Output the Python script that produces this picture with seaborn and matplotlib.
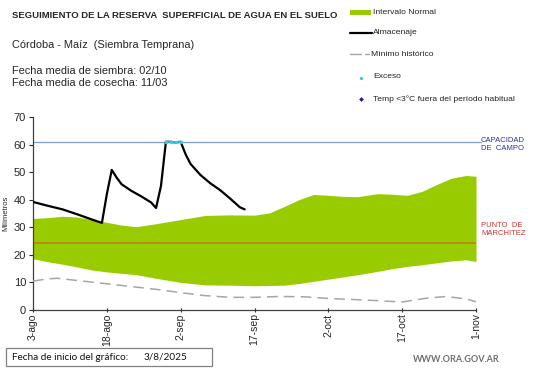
import numpy as np
import pandas as pd
import matplotlib
matplotlib.use("Agg")
import matplotlib.pyplot as plt
import seaborn as sns
from matplotlib.lines import Line2D

sns.set_style("white")
plt.rcParams['font.family'] = ['Liberation Sans', 'DejaVu Sans']

# ---- data (days since 3-ago-2025) ----
band_days = [0, 3, 6, 9, 12, 15, 18, 21, 25, 30, 35, 40, 45, 48, 51, 54, 57, 60, 63, 66, 70, 73, 76, 79, 82, 85, 88, 90]
band_upper = [33.2, 33.5, 34.0, 33.7, 32.8, 31.8, 30.8, 30.2, 31.3, 32.8, 34.3, 34.5, 34.4, 35.2, 37.5, 40.0, 41.9, 41.6, 41.2, 41.1, 42.2, 42.0, 41.6, 43.0, 45.5, 47.8, 48.8, 48.5]
band_lower = [18.6, 17.5, 16.6, 15.6, 14.5, 13.8, 13.3, 12.8, 11.5, 10.0, 9.1, 9.0, 8.8, 8.9, 9.0, 9.6, 10.4, 11.2, 12.0, 12.8, 14.0, 15.0, 15.8, 16.4, 17.1, 17.8, 18.2, 17.6]

alm_days = [0, 3, 6, 9, 12, 14, 15, 16, 17, 18, 20, 22, 24, 25, 26, 27, 28, 29, 30, 31, 32, 34, 36, 38, 40, 42, 43]
alm_vals = [39.2, 37.8, 36.5, 34.7, 32.8, 31.6, 42.0, 50.8, 48.0, 45.6, 43.2, 41.2, 39.0, 37.0, 45.0, 61.0, 61.0, 60.8, 61.0, 56.5, 53.0, 49.0, 46.0, 43.5, 40.5, 37.3, 36.5]

min_days = [0, 3, 5, 10, 15, 20, 25, 30, 35, 40, 45, 50, 55, 60, 65, 70, 75, 80, 84, 88, 90]
min_vals = [10.5, 11.3, 11.5, 10.5, 9.5, 8.5, 7.5, 6.3, 5.2, 4.6, 4.6, 4.9, 4.8, 4.2, 3.8, 3.4, 2.9, 4.3, 4.9, 4.0, 3.0]

exceso_days = [27, 28, 29, 30]
exceso_vals = [61.0, 61.0, 61.0, 61.0]

capacidad = 61.0
marchitez = 24.3

tick_days = [0, 15, 30, 45, 60, 75, 90]
tick_labels = ["3-ago", "18-ago", "2-sep", "17-sep", "2-oct", "17-oct", "1-nov"]

W, H = 541, 368
fig = plt.figure(figsize=(W / 100, H / 100), dpi=100)
ax = fig.add_axes([33 / W, 1 - 310 / H, (476 - 33) / W, (310 - 117) / H])

ax.fill_between(band_days, band_lower, band_upper, color="#99CC00", linewidth=0, zorder=1)
ax.plot([0, 90], [marchitez, marchitez], color="#C07A1A", lw=1.1, zorder=2)
ax.plot([0, 91], [capacidad, capacidad], color="#7F9FCF", lw=0.9, zorder=2, clip_on=False)

df_min = pd.DataFrame({"day": min_days, "val": min_vals})
sns.lineplot(data=df_min, x="day", y="val", ax=ax, color="#A6A6A6", lw=1.1,
             linestyle=(0, (7, 4)), zorder=3)
df_alm = pd.DataFrame({"day": alm_days, "val": alm_vals})
sns.lineplot(data=df_alm, x="day", y="val", ax=ax, color="black", lw=1.6, zorder=4)
df_exc = pd.DataFrame({"day": exceso_days, "val": exceso_vals})
sns.lineplot(data=df_exc, x="day", y="val", ax=ax, color="#33CCEE", lw=1.2, zorder=5,
             marker="o", markersize=2.5, markeredgewidth=0)

ax.set_xlim(0, 90)
ax.set_ylim(0, 70)
ax.set_xticks(tick_days)
ax.set_xticklabels(tick_labels, rotation=90, fontsize=7.5)
ax.set_yticks(range(0, 71, 10))
ax.tick_params(axis="y", labelsize=8, length=3, direction="out", width=0.8, pad=2)
ax.tick_params(axis="x", length=3, direction="inout", width=0.8, pad=1)
ax.tick_params(axis="both", left=True, bottom=True)
for s in ["top", "right"]:
    ax.spines[s].set_visible(False)
for s in ["left", "bottom"]:
    ax.spines[s].set_color("#404040")
    ax.spines[s].set_linewidth(0.9)
ax.set_xlabel("")
ax.set_ylabel("Milímetros", fontsize=5.5, labelpad=3)

# right-side labels
fig.text(481 / W, 1 - 144 / H, "CAPACIDAD\nDE  CAMPO", fontsize=5.5, color="#3030A0",
         va="center", ha="left", linespacing=1.2)
fig.text(481 / W, 1 - 229 / H, "PUNTO  DE\nMARCHITEZ", fontsize=5.5, color="#CC3333",
         va="center", ha="left", linespacing=1.2)

# titles
fig.text(12 / W, 1 - 15 / H, "SEGUIMIENTO DE LA RESERVA  SUPERFICIAL DE AGUA EN EL SUELO",
         fontsize=6.8, fontweight="bold", va="center", ha="left")
fig.text(12 / W, 1 - 45 / H, "Córdoba - Maíz  (Siembra Temprana)", fontsize=7.9,
         va="center", ha="left")
fig.text(12 / W, 1 - 71 / H, "Fecha media de siembra: 02/10", fontsize=7.9, va="center", ha="left")
fig.text(12 / W, 1 - 83 / H, "Fecha media de cosecha: 11/03", fontsize=7.9, va="center", ha="left")

# legend (manual)
lax = fig.add_axes([0, 0, 1, 1], facecolor="none")
lax.set_xlim(0, W)
lax.set_ylim(H, 0)
lax.axis("off")
lax.add_patch(plt.Rectangle((350, 10), 21, 4.5, color="#99CC00", lw=0))
lax.add_line(Line2D([350, 372], [33, 33], color="black", lw=1.6))
lax.add_line(Line2D([350, 361], [54, 54], color="#A6A6A6", lw=1.0))
lax.add_line(Line2D([365, 369], [54, 54], color="#A6A6A6", lw=1.0))
lax.plot([360.5], [78], marker="o", markersize=2.2, color="#33BBDD", mew=0)
lax.plot([360.5], [98.5], marker="D", markersize=2.4, color="#1A1A99", mew=0)
leg_fs = 6.1
lax.text(373, 12, "Intervalo Normal", fontsize=leg_fs, va="center", color="#222222")
lax.text(373, 33, "Almacenaje", fontsize=leg_fs, va="center", color="#222222")
lax.text(371, 54, "Mínimo histórico", fontsize=leg_fs, va="center", color="#222222")
lax.text(373, 77, "Exceso", fontsize=leg_fs, va="center", color="#222222")
lax.text(373, 99, "Temp <3°C fuera del período habitual", fontsize=leg_fs, va="center", color="#222222")

# bottom box
lax.add_patch(plt.Rectangle((6, 348), 206, 18, fill=False, edgecolor="#808080", lw=0.9))
lax.text(12, 357, "Fecha de inicio del gráfico:", fontsize=7.2, va="center",
         family=["Lato", "DejaVu Sans"], color="#111111")
lax.text(144, 357, "3/8/2025", fontsize=7.2, va="center",
         family=["Lato", "DejaVu Sans"], color="#111111")
lax.text(500, 359, "WWW.ORA.GOV.AR", fontsize=6.5, va="center", ha="right",
         color="#707070", fontweight="bold", family=["Lato", "DejaVu Sans"])

fig.savefig("out.png", dpi=100)
